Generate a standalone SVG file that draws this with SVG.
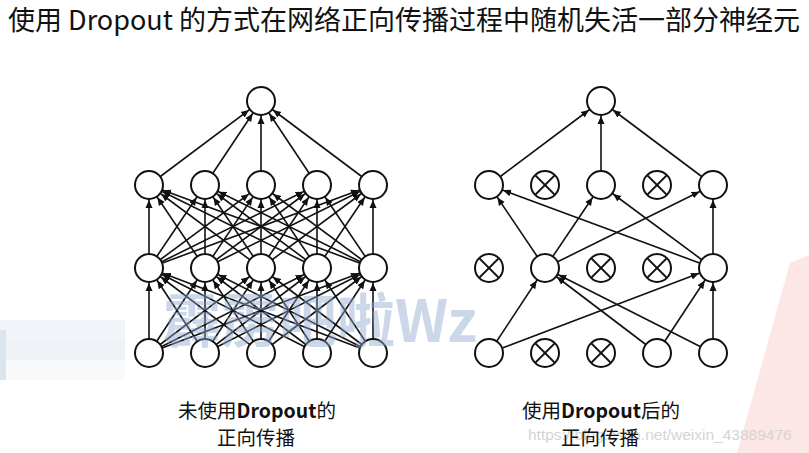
<svg xmlns="http://www.w3.org/2000/svg" width="809" height="453" viewBox="0 0 809 453">
<style>
.cn line{stroke:#111;stroke-width:1.6;marker-end:url(#ah)}
.nd circle{fill:#fff;stroke:#111;stroke-width:2}
.t{font-family:"Noto Sans CJK SC","Noto Sans",sans-serif;fill:#111}
.b{font-weight:bold}
</style>
<defs>
<marker id="ah" viewBox="0 0 24 10" markerWidth="24" markerHeight="10" refX="23" refY="5" orient="auto" markerUnits="userSpaceOnUse">
<path d="M0,1.5 L8,5 L0,8.5 z" fill="#111"/>
</marker>
<g id="xm" stroke="#111" stroke-width="1.8"><line x1="-9.5" y1="-9.5" x2="9.5" y2="9.5"/><line x1="-9.5" y1="9.5" x2="9.5" y2="-9.5"/></g>
</defs>
<rect width="809" height="453" fill="#fff"/>
<polygon points="790,263 809,255 809,453 737,453" fill="#fde6e6"/>
<g opacity="0.4">
<rect x="0" y="320" width="125" height="20" fill="#dde4ee"/>
<rect x="0" y="340" width="125" height="20" fill="#d6deea"/>
<rect x="0" y="360" width="125" height="20" fill="#eef1f6"/>
<rect x="0" y="330" width="6" height="50" fill="#a9bcd6"/>
</g>
<text class="t" x="8" y="30" font-size="27" textLength="792" lengthAdjust="spacingAndGlyphs">使用 Dropout 的方式在网络正向传播过程中随机失活一部分神经元</text>
<g id="connectors" class="cn">
<line x1="149" y1="353" x2="149" y2="268"/><line x1="149" y1="353" x2="205" y2="268"/><line x1="149" y1="353" x2="261" y2="268"/><line x1="149" y1="353" x2="317" y2="268"/><line x1="149" y1="353" x2="373" y2="268"/>
<line x1="205" y1="353" x2="149" y2="268"/><line x1="205" y1="353" x2="205" y2="268"/><line x1="205" y1="353" x2="261" y2="268"/><line x1="205" y1="353" x2="317" y2="268"/><line x1="205" y1="353" x2="373" y2="268"/>
<line x1="261" y1="353" x2="149" y2="268"/><line x1="261" y1="353" x2="205" y2="268"/><line x1="261" y1="353" x2="261" y2="268"/><line x1="261" y1="353" x2="317" y2="268"/><line x1="261" y1="353" x2="373" y2="268"/>
<line x1="317" y1="353" x2="149" y2="268"/><line x1="317" y1="353" x2="205" y2="268"/><line x1="317" y1="353" x2="261" y2="268"/><line x1="317" y1="353" x2="317" y2="268"/><line x1="317" y1="353" x2="373" y2="268"/>
<line x1="373" y1="353" x2="149" y2="268"/><line x1="373" y1="353" x2="205" y2="268"/><line x1="373" y1="353" x2="261" y2="268"/><line x1="373" y1="353" x2="317" y2="268"/><line x1="373" y1="353" x2="373" y2="268"/>
<line x1="149" y1="268" x2="149" y2="185"/><line x1="149" y1="268" x2="205" y2="185"/><line x1="149" y1="268" x2="261" y2="185"/><line x1="149" y1="268" x2="317" y2="185"/><line x1="149" y1="268" x2="373" y2="185"/>
<line x1="205" y1="268" x2="149" y2="185"/><line x1="205" y1="268" x2="205" y2="185"/><line x1="205" y1="268" x2="261" y2="185"/><line x1="205" y1="268" x2="317" y2="185"/><line x1="205" y1="268" x2="373" y2="185"/>
<line x1="261" y1="268" x2="149" y2="185"/><line x1="261" y1="268" x2="205" y2="185"/><line x1="261" y1="268" x2="261" y2="185"/><line x1="261" y1="268" x2="317" y2="185"/><line x1="261" y1="268" x2="373" y2="185"/>
<line x1="317" y1="268" x2="149" y2="185"/><line x1="317" y1="268" x2="205" y2="185"/><line x1="317" y1="268" x2="261" y2="185"/><line x1="317" y1="268" x2="317" y2="185"/><line x1="317" y1="268" x2="373" y2="185"/>
<line x1="373" y1="268" x2="149" y2="185"/><line x1="373" y1="268" x2="205" y2="185"/><line x1="373" y1="268" x2="261" y2="185"/><line x1="373" y1="268" x2="317" y2="185"/><line x1="373" y1="268" x2="373" y2="185"/>
<line x1="149" y1="185" x2="261" y2="101"/><line x1="205" y1="185" x2="261" y2="101"/><line x1="261" y1="185" x2="261" y2="101"/><line x1="317" y1="185" x2="261" y2="101"/><line x1="373" y1="185" x2="261" y2="101"/>
<line x1="489" y1="353" x2="545" y2="268"/><line x1="489" y1="353" x2="713" y2="268"/>
<line x1="657" y1="353" x2="545" y2="268"/><line x1="657" y1="353" x2="713" y2="268"/>
<line x1="713" y1="353" x2="545" y2="268"/><line x1="713" y1="353" x2="713" y2="268"/>
<line x1="545" y1="268" x2="489" y2="185"/><line x1="545" y1="268" x2="601" y2="185"/><line x1="545" y1="268" x2="713" y2="185"/>
<line x1="713" y1="268" x2="489" y2="185"/><line x1="713" y1="268" x2="601" y2="185"/><line x1="713" y1="268" x2="713" y2="185"/>
<line x1="489" y1="185" x2="601" y2="101"/><line x1="601" y1="185" x2="601" y2="101"/><line x1="713" y1="185" x2="601" y2="101"/>
</g>
<g class="nd">
<g id="L-out"><circle cx="261" cy="101" r="14"/></g>
<g id="L-h2-1"><circle cx="149" cy="185" r="14"/></g>
<g id="L-h2-2"><circle cx="205" cy="185" r="14"/></g>
<g id="L-h2-3"><circle cx="261" cy="185" r="14"/></g>
<g id="L-h2-4"><circle cx="317" cy="185" r="14"/></g>
<g id="L-h2-5"><circle cx="373" cy="185" r="14"/></g>
<g id="L-h1-1"><circle cx="149" cy="268" r="14"/></g>
<g id="L-h1-2"><circle cx="205" cy="268" r="14"/></g>
<g id="L-h1-3"><circle cx="261" cy="268" r="14"/></g>
<g id="L-h1-4"><circle cx="317" cy="268" r="14"/></g>
<g id="L-h1-5"><circle cx="373" cy="268" r="14"/></g>
<g id="L-in-1"><circle cx="149" cy="353" r="14"/></g>
<g id="L-in-2"><circle cx="205" cy="353" r="14"/></g>
<g id="L-in-3"><circle cx="261" cy="353" r="14"/></g>
<g id="L-in-4"><circle cx="317" cy="353" r="14"/></g>
<g id="L-in-5"><circle cx="373" cy="353" r="14"/></g>
<g id="R-out"><circle cx="601" cy="101" r="14"/></g>
<g id="R-h2-1"><circle cx="489" cy="185" r="14"/></g>
<g id="R-h2-2"><circle cx="545" cy="185" r="14"/><use href="#xm" x="545" y="185"/></g>
<g id="R-h2-3"><circle cx="601" cy="185" r="14"/></g>
<g id="R-h2-4"><circle cx="657" cy="185" r="14"/><use href="#xm" x="657" y="185"/></g>
<g id="R-h2-5"><circle cx="713" cy="185" r="14"/></g>
<g id="R-h1-1"><circle cx="489" cy="268" r="14"/><use href="#xm" x="489" y="268"/></g>
<g id="R-h1-2"><circle cx="545" cy="268" r="14"/></g>
<g id="R-h1-3"><circle cx="601" cy="268" r="14"/><use href="#xm" x="601" y="268"/></g>
<g id="R-h1-4"><circle cx="657" cy="268" r="14"/><use href="#xm" x="657" y="268"/></g>
<g id="R-h1-5"><circle cx="713" cy="268" r="14"/></g>
<g id="R-in-1"><circle cx="489" cy="353" r="14"/></g>
<g id="R-in-2"><circle cx="545" cy="353" r="14"/><use href="#xm" x="545" y="353"/></g>
<g id="R-in-3"><circle cx="601" cy="353" r="14"/><use href="#xm" x="601" y="353"/></g>
<g id="R-in-4"><circle cx="657" cy="353" r="14"/></g>
<g id="R-in-5"><circle cx="713" cy="353" r="14"/></g>
</g>
<text class="t b" x="163" y="342" font-size="58" opacity="0.45" style="fill:#8fa9cf">霹雳吧啦Wz</text>
<text x="528" y="440" font-size="15.5" font-family="Liberation Sans, Arial, sans-serif" fill="#d4d4d4">https://blog.csdn.net/weixin_43889476</text>
<text class="t" x="257" y="418" font-size="19.5" text-anchor="middle">未使用<tspan class="b">Dropout</tspan>的</text>
<text class="t" x="256" y="445" font-size="19.5" text-anchor="middle">正向传播</text>
<text class="t" x="601" y="418" font-size="19.5" text-anchor="middle">使用<tspan class="b">Dropout</tspan>后的</text>
<text class="t" x="600" y="445" font-size="19.5" text-anchor="middle">正向传播</text>
</svg>
